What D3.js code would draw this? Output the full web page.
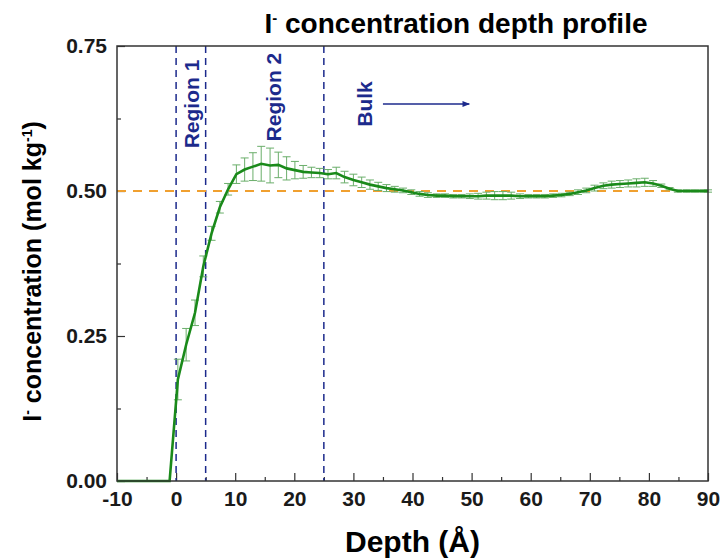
<html>
<head>
<meta charset="utf-8">
<style>
  body { margin: 0; background: #fff; }
  svg text { font-family: "Liberation Sans", Arial, sans-serif; font-weight: bold; }
  .tick text { font-size: 21px; fill: #1a1a1a; }
</style>
</head>
<body>
<script src="https://cdn.jsdelivr.net/npm/d3@7"></script>
<script>
// depth grid (Å), ~1.4 Å steps
var depth = [-10, -9.5, -8.1, -6.7, -5.3, -3.9, -2.5, -1.1,
  0.3, 1.7, 3.2, 4.6, 6.0, 7.4, 8.8, 10.2, 11.6, 13.0, 14.4, 15.9, 17.3, 18.7, 20.1, 21.5,
  22.9, 24.3, 25.7, 27.1, 28.5, 30.0, 31.4, 32.8, 34.2, 35.6, 37.0, 38.4, 39.8, 41.2,
  42.6, 44.1, 45.5, 46.9, 48.3, 49.7, 51.1, 52.5, 53.9, 55.3, 56.7, 58.2, 59.6, 61.0,
  62.4, 63.8, 65.2, 66.6, 68.0, 69.4, 70.8, 72.3, 73.7, 75.1, 76.5, 77.9, 79.3, 80.7,
  82.1, 83.5, 84.9, 86.4, 87.8, 89.2, 90.0];

// I- concentration (mol/kg)
var conc = [0, 0, 0, 0, 0, 0, 0, 0,
  0.175, 0.235, 0.290, 0.370, 0.427, 0.472, 0.503, 0.529, 0.537, 0.542, 0.547, 0.544, 0.545, 0.539, 0.536, 0.533,
  0.532, 0.531, 0.529, 0.531, 0.524, 0.519, 0.515, 0.511, 0.508, 0.505, 0.503, 0.501, 0.498, 0.495,
  0.493, 0.492, 0.492, 0.491, 0.491, 0.491, 0.491, 0.492, 0.492, 0.492, 0.492, 0.491, 0.491, 0.491,
  0.491, 0.492, 0.493, 0.495, 0.498, 0.501, 0.505, 0.509, 0.511, 0.512, 0.513, 0.514, 0.515, 0.513,
  0.509, 0.504, 0.500, 0.500, 0.500, 0.500, 0.500];

// error bar half widths
var err = [0, 0, 0, 0, 0, 0, 0, 0,
  0.035, 0.028, 0.022, 0.018, 0.012, 0.010, 0.010, 0.016, 0.020, 0.024, 0.030, 0.030, 0.022, 0.020, 0.015, 0.011,
  0.009, 0.008, 0.008, 0.010, 0.010, 0.010, 0.009, 0.008, 0.007, 0.006, 0.005, 0.004, 0.004, 0.004,
  0.004, 0.003, 0.003, 0.003, 0.003, 0.004, 0.005, 0.006, 0.007, 0.007, 0.006, 0.004, 0.003, 0.003,
  0.003, 0.003, 0.003, 0.003, 0.004, 0.004, 0.005, 0.005, 0.006, 0.006, 0.006, 0.007, 0.007, 0.005,
  0.003, 0.002, 0.002, 0.002, 0.002, 0.002, 0.002];

var xTicks = [-10, 0, 10, 20, 30, 40, 50, 60, 70, 80, 90];
var xMinor = [-5, 5, 15, 25, 35, 45, 55, 65, 75, 85];
var yTicks = [0, 0.25, 0.5, 0.75];
var yMinor = [0.125, 0.375, 0.625];
var regionLines = [0, 5, 25];
var bulkLevel = 0.5;

// annotation anchors (data units)
var regionLabels = [
  {text: "Region 1", x: 3.8, y: 0.650},
  {text: "Region 2", x: 17.8, y: 0.662},
  {text: "Bulk", x: 33.2, y: 0.650}
];
var arrowFrom = [35.0, 0.650], arrowTo = [49.6, 0.650];

var svg = d3.select("body").append("svg")
    .attr("width", 726)
    .attr("height", 558);

var margin = {top: 46, right: 18, bottom: 77, left: 117},
    width = 726 - margin.left - margin.right,
    height = 558 - margin.top - margin.bottom;

var g = svg.append("g")
    .attr("transform", "translate(" + margin.left + "," + margin.top + ")");

var x = d3.scaleLinear().domain([-10, 90]).range([0, width]);
var y = d3.scaleLinear().domain([0, 0.75]).range([height, 0]);

var navy = "#1c2a8c";

// axes, ticks pointing inward
g.append("g")
    .attr("transform", "translate(0," + height + ")")
    .call(d3.axisBottom(x).tickValues(xTicks).tickSizeInner(-8).tickSizeOuter(0).tickPadding(10).tickFormat(function(d) { return d; }));
g.append("g")
    .attr("transform", "translate(0," + height + ")")
    .call(d3.axisBottom(x).tickValues(xMinor).tickSize(-4).tickFormat(""));
g.append("g")
    .call(d3.axisLeft(y).tickValues(yTicks).tickSizeInner(-8).tickSizeOuter(0).tickPadding(10).tickFormat(d3.format(".2f")));
g.append("g")
    .call(d3.axisLeft(y).tickValues(yMinor).tickSize(-4).tickFormat(""));
g.selectAll(".domain").remove();
g.selectAll(".tick line").attr("stroke", "#333").attr("stroke-width", 1.2);

// region dividers
g.selectAll(".region")
    .data(regionLines)
    .enter().append("line")
    .attr("x1", function(d) { return x(d); })
    .attr("x2", function(d) { return x(d); })
    .attr("y1", 0)
    .attr("y2", height)
    .attr("stroke", navy)
    .attr("stroke-width", 1.5)
    .attr("stroke-dasharray", "7,5");

// bulk level
g.append("line")
    .attr("x1", 0)
    .attr("x2", width)
    .attr("y1", y(bulkLevel))
    .attr("y2", y(bulkLevel))
    .attr("stroke", "#f0a030")
    .attr("stroke-width", 2)
    .attr("stroke-dasharray", "9,7");

var pts = depth.map(function(d, i) { return {x: d, y: conc[i], e: err[i]}; });

// error bars
var bars = g.append("g")
    .attr("stroke", "#6aae6a")
    .attr("stroke-width", 1);
pts.filter(function(d) { return d.e > 0; }).forEach(function(d) {
  bars.append("line")
      .attr("x1", x(d.x)).attr("x2", x(d.x))
      .attr("y1", y(d.y - d.e)).attr("y2", y(d.y + d.e));
  [d.y - d.e, d.y + d.e].forEach(function(v) {
    bars.append("line")
        .attr("x1", x(d.x) - 4).attr("x2", x(d.x) + 4)
        .attr("y1", y(v)).attr("y2", y(v));
  });
});

// profile line
g.append("path")
    .datum(pts)
    .attr("fill", "none")
    .attr("stroke", "#1a8a1a")
    .attr("stroke-width", 2.6)
    .attr("d", d3.line().x(function(d) { return x(d.x); }).y(function(d) { return y(d.y); }));

// frame
g.append("rect")
    .attr("width", width)
    .attr("height", height)
    .attr("fill", "none")
    .attr("stroke", "#333")
    .attr("stroke-width", 1.5);

// region labels
g.selectAll(".rlabel")
    .data(regionLabels)
    .enter().append("text")
    .attr("transform", function(d) { return "translate(" + x(d.x) + "," + y(d.y) + ") rotate(-90)"; })
    .attr("text-anchor", "middle")
    .attr("fill", navy)
    .style("font-size", "21px")
    .text(function(d) { return d.text; });

// bulk arrow
svg.append("defs").append("marker")
    .attr("id", "arrow")
    .attr("viewBox", "0 0 10 10")
    .attr("refX", 9).attr("refY", 5)
    .attr("markerWidth", 6).attr("markerHeight", 5)
    .attr("orient", "auto")
  .append("path")
    .attr("d", "M0,1L10,5L0,9Z")
    .attr("fill", navy);
g.append("line")
    .attr("x1", x(arrowFrom[0])).attr("x2", x(arrowTo[0]))
    .attr("y1", y(arrowFrom[1])).attr("y2", y(arrowTo[1]))
    .attr("stroke", navy)
    .attr("stroke-width", 1.5)
    .attr("marker-end", "url(#arrow)");

// title
var title = svg.append("text")
    .attr("x", 456)
    .attr("y", 33)
    .attr("text-anchor", "middle")
    .style("font-size", "28px");
title.append("tspan").text("I");
title.append("tspan").attr("dy", -10).style("font-size", "15px").text("-");
title.append("tspan").attr("dy", 10).text(" concentration depth profile");

// y label
var ylab = svg.append("text")
    .attr("transform", "translate(41," + (margin.top + height / 2 + 8) + ") rotate(-90)")
    .attr("text-anchor", "middle")
    .style("font-size", "25px");
ylab.append("tspan").text("I");
ylab.append("tspan").attr("dy", -9).style("font-size", "14px").text("-");
ylab.append("tspan").attr("dy", 9).text(" concentration (mol kg");
ylab.append("tspan").attr("dy", -9).style("font-size", "14px").text("-1");
ylab.append("tspan").attr("dy", 9).text(")");

// x label
svg.append("text")
    .attr("x", margin.left + width / 2)
    .attr("y", 552)
    .attr("text-anchor", "middle")
    .style("font-size", "30px")
    .text("Depth (Å)");
</script>
</body>
</html>
